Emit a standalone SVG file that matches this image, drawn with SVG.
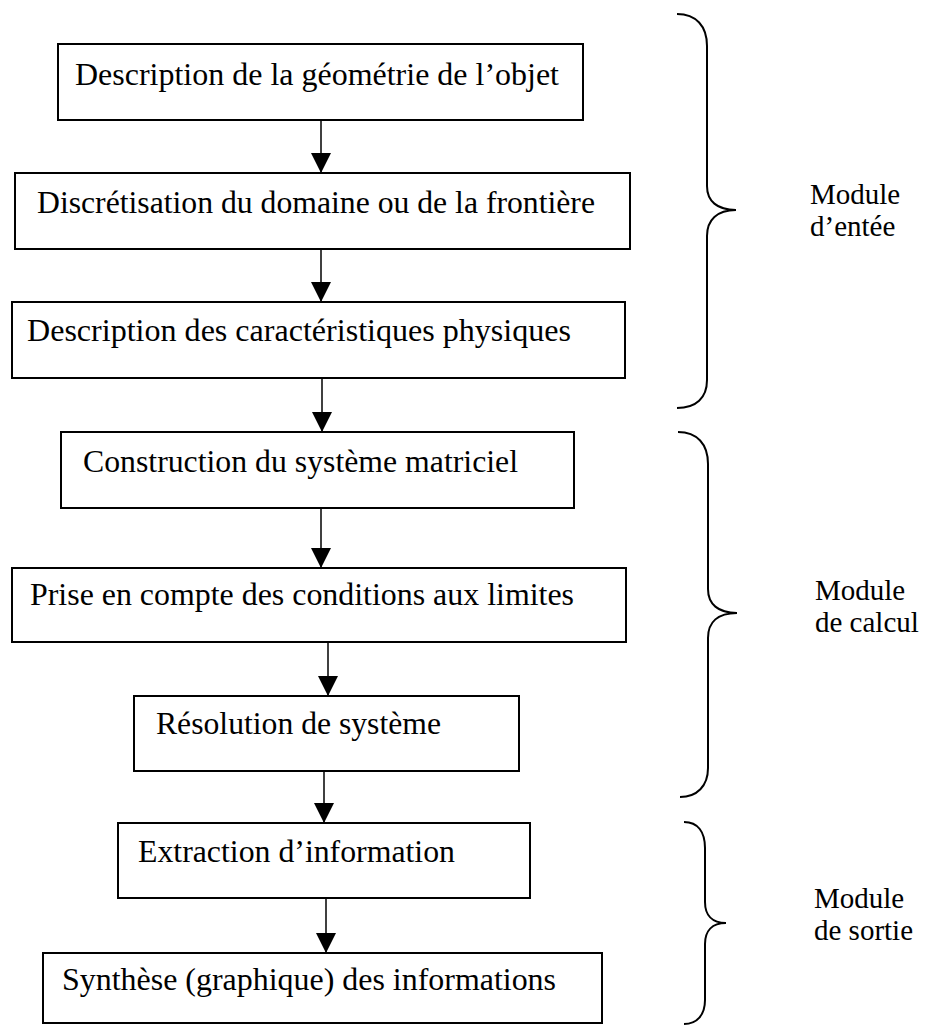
<svg xmlns="http://www.w3.org/2000/svg" width="928" height="1026" viewBox="0 0 928 1026">
  <style>
    .box { fill: #ffffff; stroke: #000000; stroke-width: 2; }
    .lbl { font-family: "Liberation Serif", "Times New Roman", serif; font-size: 31px; fill: #000000; }
    .mod { font-family: "Liberation Serif", "Times New Roman", serif; font-size: 29px; fill: #000000; }
    .edge { stroke: #000000; stroke-width: 1.5; fill: none; }
    .brace { stroke: #000000; stroke-width: 2; fill: none; }
  </style>
  <defs>
    <marker id="arrow" markerUnits="userSpaceOnUse" markerWidth="22" markerHeight="22" refX="20" refY="10" orient="auto">
      <path d="M0,0 L20,10 L0,20 Z" fill="#000000"/>
    </marker>
  </defs>
  <rect width="928" height="1026" fill="#ffffff"/>

  <!-- flow steps -->
  <g id="n1">
    <rect class="box" x="58" y="44" width="525" height="76"/>
    <text class="lbl" x="75" y="85" textLength="484" lengthAdjust="spacingAndGlyphs">Description de la géométrie de l’objet</text>
  </g>
  <g id="n2">
    <rect class="box" x="15" y="173" width="615" height="76"/>
    <text class="lbl" x="37" y="213" textLength="558" lengthAdjust="spacingAndGlyphs">Discrétisation du domaine ou de la frontière</text>
  </g>
  <g id="n3">
    <rect class="box" x="12" y="302" width="613" height="76"/>
    <text class="lbl" x="27" y="341" textLength="544" lengthAdjust="spacingAndGlyphs">Description des caractéristiques physiques</text>
  </g>
  <g id="n4">
    <rect class="box" x="61" y="432" width="513" height="76"/>
    <text class="lbl" x="83" y="472" textLength="435" lengthAdjust="spacingAndGlyphs">Construction du système matriciel</text>
  </g>
  <g id="n5">
    <rect class="box" x="12" y="568" width="614" height="74"/>
    <text class="lbl" x="30" y="605" textLength="544" lengthAdjust="spacingAndGlyphs">Prise en compte des conditions aux limites</text>
  </g>
  <g id="n6">
    <rect class="box" x="134" y="696" width="385" height="75"/>
    <text class="lbl" x="156" y="734" textLength="285" lengthAdjust="spacingAndGlyphs">Résolution de système</text>
  </g>
  <g id="n7">
    <rect class="box" x="118" y="823" width="412" height="75"/>
    <text class="lbl" x="138" y="862" textLength="317" lengthAdjust="spacingAndGlyphs">Extraction d’information</text>
  </g>
  <g id="n8">
    <rect class="box" x="43" y="953" width="559" height="70"/>
    <text class="lbl" x="62" y="990" textLength="494" lengthAdjust="spacingAndGlyphs">Synthèse (graphique) des informations</text>
  </g>

  <!-- connectors between steps -->
  <g id="connectors">
    <line class="edge" x1="321" y1="120" x2="321" y2="173" marker-end="url(#arrow)"/>
    <line class="edge" x1="321" y1="249" x2="321" y2="302" marker-end="url(#arrow)"/>
    <line class="edge" x1="322" y1="378" x2="322" y2="432" marker-end="url(#arrow)"/>
    <line class="edge" x1="321" y1="508" x2="321" y2="568" marker-end="url(#arrow)"/>
    <line class="edge" x1="328" y1="642" x2="328" y2="696" marker-end="url(#arrow)"/>
    <line class="edge" x1="324" y1="771" x2="324" y2="823" marker-end="url(#arrow)"/>
    <line class="edge" x1="326" y1="898" x2="326" y2="953" marker-end="url(#arrow)"/>
  </g>

  <!-- module braces -->
  <g id="brace-entree">
    <path class="brace" d="M677,14 C696,14 707,26 707,46 L707,186 C707,201 717,210 736,210 C717,210 707,220 707,236 L707,380 C707,398 696,408 677,408"/>
    <text class="mod" x="810" y="204">Module</text>
    <text class="mod" x="810" y="236">d’entée</text>
  </g>
  <g id="brace-calcul">
    <path class="brace" d="M678,432 C697,432 708,444 708,464 L708,589 C708,604 718,613 737,613 C718,613 708,622 708,638 L708,768 C708,786 697,797 680,797"/>
    <text class="mod" x="815" y="600">Module</text>
    <text class="mod" x="815" y="632">de calcul</text>
  </g>
  <g id="brace-sortie">
    <path class="brace" d="M684,822 C698,822 705,832 705,848 L705,902 C705,915 712,923 726,923 C712,923 705,931 705,944 L705,1000 C705,1015 697,1024 684,1024"/>
    <text class="mod" x="814" y="908">Module</text>
    <text class="mod" x="814" y="940">de sortie</text>
  </g>
</svg>
